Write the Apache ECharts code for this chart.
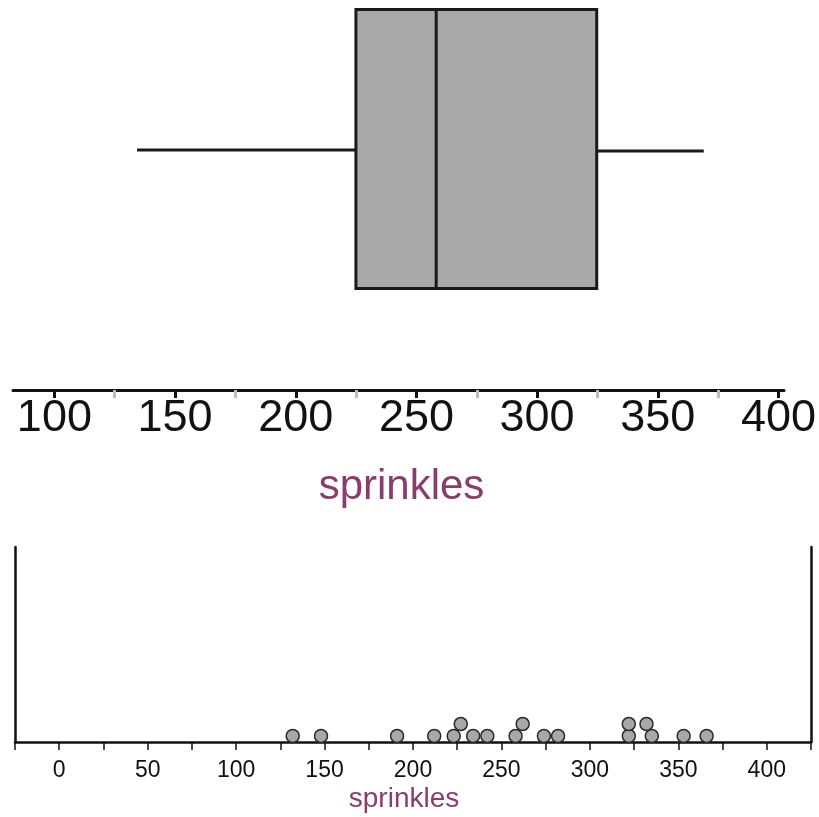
<!DOCTYPE html>
<html>
<head>
<meta charset="utf-8">
<script src="https://cdn.jsdelivr.net/npm/echarts@6/dist/echarts.min.js"></script>
<style>
html,body{margin:0;padding:0;background:#fff;}
#chart{width:819px;height:817px;}
</style>
</head>
<body>
<div id="chart"></div>
<script>
// Box plot summary: min, Q1, median, Q3, max
const boxStats = [134, 224, 257, 323, 367];
const boxCategory = ['sprinkles'];
// Dot plot values and stack level of each dot
const dotValues = [132, 148, 191, 212, 223, 227, 234, 242, 258, 262, 274, 282, 322, 322, 332, 335, 353, 366];
const dotLevels = [1, 1, 1, 1, 1, 2, 1, 1, 1, 2, 1, 1, 1, 2, 2, 1, 1, 1];
const axisName = 'sprinkles';

const FONT = '"Liberation Sans", Arial, Helvetica, sans-serif';
const PURPLE = '#8a3d6c';

const chart = echarts.init(document.getElementById('chart'), null, {renderer: 'canvas'});

function renderBox(params, api) {
  const cat = api.value(0);
  const p = [1, 2, 3, 4, 5].map(i => api.coord([api.value(i), cat]));
  const h = api.size([0, 1])[1];
  const cy = p[0][1];
  const stroke = '#1a1a1a';
  return {
    type: 'group',
    children: [
      {type: 'line', shape: {x1: p[0][0], y1: cy + 1, x2: p[1][0], y2: cy + 1}, style: {stroke: stroke, lineWidth: 3}},
      {type: 'line', shape: {x1: p[3][0], y1: cy + 2, x2: p[4][0], y2: cy + 2}, style: {stroke: stroke, lineWidth: 3}},
      {type: 'rect', shape: {x: p[1][0], y: cy - h / 2 + 1.5, width: p[3][0] - p[1][0], height: h - 3},
        style: {fill: '#a9a9a9', stroke: stroke, lineWidth: 3}},
      {type: 'line', shape: {x1: p[2][0], y1: cy - h / 2 + 1.5, x2: p[2][0], y2: cy + h / 2 - 1.5}, style: {stroke: stroke, lineWidth: 3}}
    ]
  };
}

const option = {
  backgroundColor: '#ffffff',
  animation: false,
  textStyle: {fontFamily: FONT},
  grid: [
    {left: 13, right: 35, top: 8, height: 282},
    {left: 54.4, right: 35, top: 8, height: 382},
    {left: 15, right: 8, top: 547, bottom: 75}
  ],
  xAxis: [
    {
      gridIndex: 0, type: 'value', min: 83, max: 400, offset: 100,
      splitLine: {show: false},
      axisLine: {show: true, lineStyle: {color: '#111', width: 3}},
      axisTick: {show: false},
      axisLabel: {show: false},
      name: axisName, nameLocation: 'middle', nameGap: 76,
      nameTextStyle: {color: PURPLE, fontSize: 42, fontFamily: FONT, padding: [0, 0, 0, 6]}
    },
    {
      gridIndex: 1, type: 'value', min: 100, max: 400, interval: 50,
      splitLine: {show: false},
      axisLine: {show: false},
      axisTick: {show: true, length: 8, lineStyle: {color: '#111', width: 3}},
      minorTick: {show: true, splitNumber: 2, length: 8, lineStyle: {color: '#bdbdbd', width: 3}},
      minorSplitLine: {show: false},
      axisLabel: {show: true, color: '#111', fontSize: 45, margin: 6, fontFamily: FONT,
        showMinLabel: true, showMaxLabel: true}
    },
    {
      gridIndex: 2, type: 'value', min: -25, max: 425, interval: 25,
      splitLine: {show: false},
      axisLine: {show: true, lineStyle: {color: '#111', width: 2.5}},
      axisTick: {show: true, length: 8, lineStyle: {color: '#111', width: 1.5}},
      axisLabel: {show: true, color: '#111', fontSize: 23, margin: 17, fontFamily: FONT,
        showMinLabel: true, showMaxLabel: true,
        formatter: v => (v >= 0 && v <= 400 && v % 50 === 0 ? String(v) : '')},
      name: axisName, nameLocation: 'middle', nameGap: 43,
      nameTextStyle: {color: PURPLE, fontSize: 28, fontFamily: FONT, padding: [0, 18, 0, 0]}
    }
  ],
  yAxis: [
    {gridIndex: 0, type: 'category', data: boxCategory, show: false},
    {gridIndex: 1, type: 'value', show: false},
    {
      gridIndex: 2, type: 'value', min: 0.5, max: 16.75, position: 'left',
      splitLine: {show: false},
      axisLine: {show: true, onZero: false, lineStyle: {color: '#111', width: 2.5}},
      axisTick: {show: false}, axisLabel: {show: false}
    },
    {
      gridIndex: 2, type: 'value', min: 0.5, max: 16.75, position: 'right',
      splitLine: {show: false},
      axisLine: {show: true, onZero: false, lineStyle: {color: '#111', width: 2.5}},
      axisTick: {show: false}, axisLabel: {show: false}
    }
  ],
  series: [
    {
      type: 'custom',
      xAxisIndex: 0, yAxisIndex: 0,
      renderItem: renderBox,
      encode: {x: [1, 2, 3, 4, 5], y: 0},
      data: [[0].concat(boxStats)],
      silent: true
    },
    {
      type: 'scatter',
      xAxisIndex: 2, yAxisIndex: 2,
      symbol: 'circle', symbolSize: 13,
      itemStyle: {color: '#a8a8a8', borderColor: '#2a2a2a', borderWidth: 1.5, opacity: 1},
      data: dotValues.map((v, i) => [v, dotLevels[i]]),
      silent: true
    }
  ]
};

chart.setOption(option);
</script>
</body>
</html>
